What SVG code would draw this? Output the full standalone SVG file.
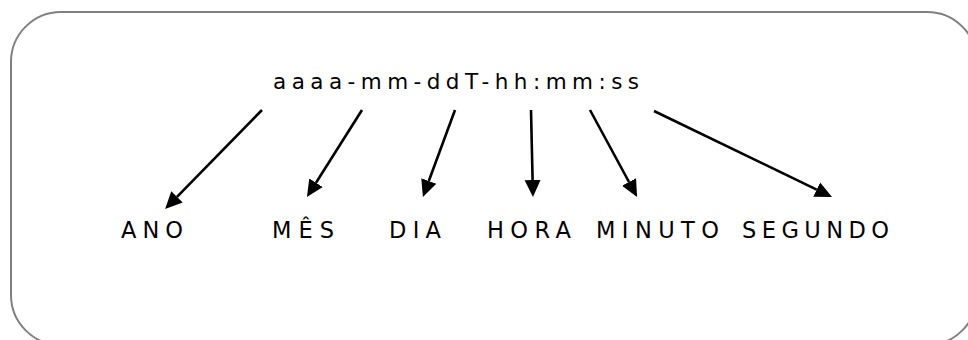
<svg xmlns="http://www.w3.org/2000/svg" width="968" height="340" viewBox="0 0 968 340">
  <style>
    .frame { fill: #ffffff; stroke: #808080; stroke-width: 2; }
    .fmt { font-family: "DejaVu Sans", "Open Sans", sans-serif; font-size: 21.5px; fill: #000000; }
    .lbl { font-family: "DejaVu Sans", "Open Sans", sans-serif; font-size: 22.5px; fill: #000000; }
    .arrow { stroke: #000000; stroke-width: 2.6; fill: none; marker-end: url(#head); }
  </style>
  <defs>
    <marker id="head" markerUnits="userSpaceOnUse" markerWidth="18" markerHeight="18" refX="0" refY="9" orient="auto" viewBox="0 0 18 18">
      <path d="M0,1 L17,9 L0,17 z" fill="#000000"/>
    </marker>
  </defs>
  <rect width="968" height="340" fill="#ffffff"/>
  <rect class="frame" x="11" y="12" width="966" height="333" rx="50" ry="50"/>

  <g id="format">
    <text class="fmt" x="273" y="89" textLength="366" lengthAdjust="spacing">aaaa-mm-ddT-hh:mm:ss</text>
  </g>

  <g id="connectors">
    <line class="arrow" x1="262" y1="110" x2="177" y2="196.8"/>
    <line class="arrow" x1="362" y1="110" x2="316" y2="182.7"/>
    <line class="arrow" x1="455" y1="110" x2="428.8" y2="181"/>
    <line class="arrow" x1="531" y1="110" x2="532.6" y2="180"/>
    <line class="arrow" x1="590" y1="110" x2="629" y2="182"/>
    <line class="arrow" x1="654" y1="111" x2="816.7" y2="189.6"/>
  </g>

  <g id="ano"><text class="lbl" x="121" y="238" textLength="62" lengthAdjust="spacing">ANO</text></g>
  <g id="mes"><text class="lbl" x="272" y="238" textLength="62" lengthAdjust="spacing">MÊS</text></g>
  <g id="dia"><text class="lbl" x="389" y="238" textLength="52" lengthAdjust="spacing">DIA</text></g>
  <g id="hora"><text class="lbl" x="487" y="238" textLength="84" lengthAdjust="spacing">HORA</text></g>
  <g id="minuto"><text class="lbl" x="596" y="238" textLength="123" lengthAdjust="spacing">MINUTO</text></g>
  <g id="segundo"><text class="lbl" x="742" y="238" textLength="147" lengthAdjust="spacing">SEGUNDO</text></g>
</svg>
